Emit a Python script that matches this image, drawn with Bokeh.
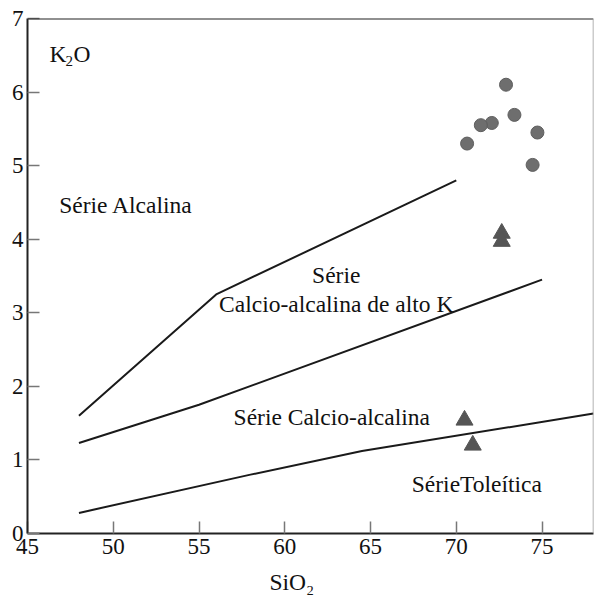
from bokeh.plotting import figure
from bokeh.models import Label, Span, FixedTicker, Title
from bokeh.embed import file_html
from bokeh.resources import INLINE

# Boundary lines (SiO2, K2O)
alc_x = [48, 56, 70]
alc_y = [1.60, 3.25, 4.80]
hik_x = [48, 55, 75]
hik_y = [1.23, 1.75, 3.45]
tho_x = [48, 58, 64.5, 78]
tho_y = [0.28, 0.80, 1.12, 1.63]

# Samples
circ_x = [72.90, 73.39, 72.07, 71.43, 70.63, 74.73, 74.45]
circ_y = [6.10, 5.69, 5.58, 5.55, 5.30, 5.45, 5.01]
tri_x = [72.65, 72.65, 70.48, 70.96]
tri_y = [4.08, 3.97, 1.54, 1.20]

x_ticks = [45, 50, 55, 60, 65, 70, 75]
y_ticks = [0, 1, 2, 3, 4, 5, 6, 7]

FONT = "Liberation Serif"
FS = "23px"
LFS = "23.5px"

p = figure(width=594, height=605, x_range=(45, 78), y_range=(0, 7),
           output_backend="svg", toolbar_location=None,
           min_border_left=27, min_border_right=1, min_border_top=18,
           min_border_bottom=72)
p.grid.visible = False
p.outline_line_color = None
p.background_fill_color = "white"
p.border_fill_color = "white"

for ax, ticks in ((p.xaxis[0], x_ticks), (p.yaxis[0], y_ticks)):
    ax.ticker = FixedTicker(ticks=ticks)
    ax.major_tick_in = 12
    ax.major_tick_out = 0
    ax.minor_tick_line_color = None
    ax.major_tick_line_color = "#777777"
    ax.major_tick_line_width = 1.5
    ax.axis_line_color = "#222222"
    ax.axis_line_width = 2
    ax.major_label_text_font = FONT
    ax.major_label_text_font_size = FS
    ax.major_label_text_color = "#111111"
p.yaxis.major_label_standoff = 4
p.xaxis.major_label_standoff = 5

p.add_layout(Title(text="SiO₂", align="left", offset=242, text_font=FONT,
                   text_font_size=LFS, text_font_style="normal",
                   text_color="#111111", standoff=20), "below")

p.add_layout(Span(location=7, dimension="width", line_color="#222222", line_width=2))
p.add_layout(Span(location=78, dimension="height", line_color="#999999", line_width=1.5))

for xs, ys in ((alc_x, alc_y), (hik_x, hik_y), (tho_x, tho_y)):
    p.line(xs, ys, line_color="#1a1a1a", line_width=2)

p.scatter(circ_x, circ_y, marker="circle", size=13, fill_color="#6e6e6e",
          line_color="#5e5e5e", line_width=1)
p.scatter(tri_x, tri_y, marker="triangle", size=17, fill_color="#555555",
          line_color="#555555", line_width=1)

def lab(x, y, t, size=LFS, align="left"):
    p.add_layout(Label(x=x, y=y, text=t, text_font=FONT, text_font_size=size,
                       text_color="#111111", text_align=align,
                       text_baseline="alphabetic"))

lab(46.85, 4.47, "Série Alcalina")
lab(63.0, 3.52, "Série", align="center")
lab(63.0, 3.12, "Calcio-alcalina de alto K", align="center")
lab(62.74, 1.59, "Série Calcio-alcalina", align="center")
lab(71.2, 0.67, "SérieToleítica", align="center")

lab(46.28, 6.52, "K")
lab(47.22, 6.42, "2", size="15px")
lab(47.68, 6.52, "O")

open("out.html", "w").write(file_html(p, INLINE))
